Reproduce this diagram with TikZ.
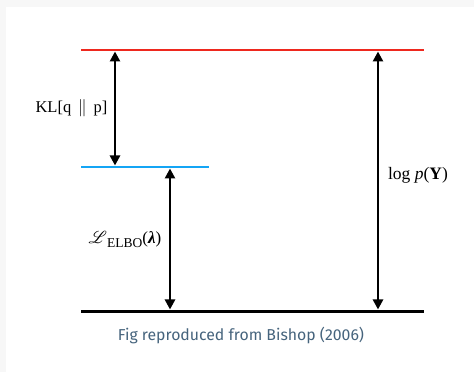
\documentclass[tikz,border=0pt]{standalone}
\usepackage{fontspec}
\usepackage{mathrsfs}
\setmainfont{Liberation Serif}
\newfontfamily\capfont{Fira Sans}
\usetikzlibrary{arrows.meta}
\definecolor{redline}{RGB}{238,40,30}
\definecolor{blueline}{RGB}{20,165,245}
\definecolor{capcol}{RGB}{70,100,125}
\definecolor{outerbg}{RGB}{247,247,247}
\begin{document}
\begin{tikzpicture}[x=1pt,y=1pt,
  level/.style={line width=2.2pt},
  dblarrow/.style={line width=2.6pt,{Triangle[width=10pt,length=10pt]}-{Triangle[width=10pt,length=10pt]},shorten <=0.5pt,shorten >=0.5pt},
  lbl/.style={inner sep=0pt,font=\fontsize{16.5}{19}\selectfont},
  caption/.style={inner sep=0pt,text=capcol,font=\capfont\fontsize{15.8}{18}\selectfont}]
\fill[outerbg] (0,0) rectangle (474,372);
\fill[white] (6,0) rectangle (474,365);
\useasboundingbox (0,0) rectangle (474,372);
% levels
\coordinate (rL) at (81,322);
\coordinate (rR) at (424,322);
\coordinate (bL) at (81,205);
\coordinate (bR) at (209,205);
\coordinate (kL) at (81,60.5);
\coordinate (kR) at (424,60.5);
\draw[level,redline] (rL) -- (rR);
\draw[level,blueline] (bL) -- (bR);
\draw[level,line width=3pt,black] (kL) -- (kR);
% arrow end points
\coordinate (a1t) at (115,321);
\coordinate (a1b) at (115,206);
\coordinate (a2t) at (170,204);
\coordinate (a2b) at (170,62);
\coordinate (a3t) at (378,321);
\coordinate (a3b) at (378,62);
\draw[dblarrow] (a1t) -- (a1b);
\draw[dblarrow] (a2t) -- (a2b);
\draw[dblarrow] (a3t) -- (a3b);
% labels
\node[lbl] (kl) at (71.5,264) {KL[q \,$\|$\, p]};
\node[lbl] (elbo) at (125,132) {\fontsize{17}{18}\selectfont$\mathscr{L}$\raisebox{-4pt}{\fontsize{13.5}{15}\selectfont ELBO}(\textbf{\textit{λ}})};
\node[lbl,font=\fontsize{17.5}{20}\selectfont] (logp) at (418,197) {log \textit{p}(\textbf{Y})};
\node[caption] (cap) at (241,36) {Fig reproduced from Bishop (2006)};
\end{tikzpicture}
\end{document}
